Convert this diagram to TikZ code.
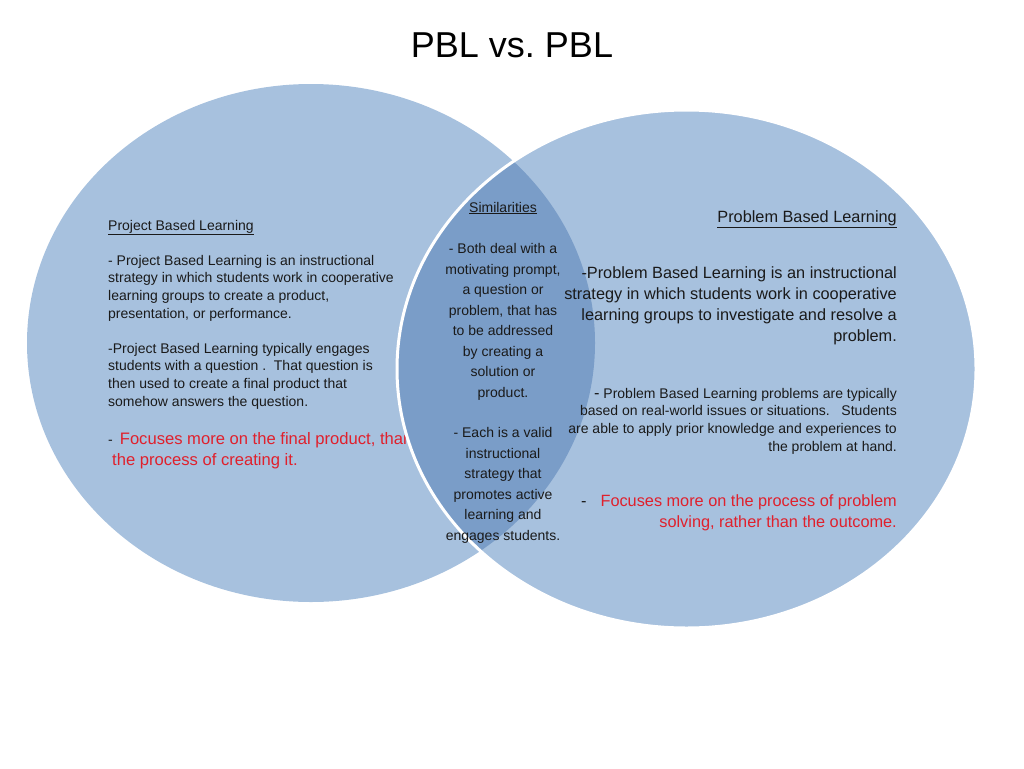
\documentclass[tikz,border=0pt]{standalone}
\usepackage{fontspec}
\setmainfont{Liberation Sans}
\frenchspacing
\usetikzlibrary{positioning}
\definecolor{vennLight}{HTML}{A7C1DE}
\definecolor{vennDark}{HTML}{7A9DC8}
\definecolor{textDark}{HTML}{1A1A1A}
\definecolor{noteRed}{HTML}{E0202C}
\tikzset{
  venntext/.style={font=\fontsize{14}{17.6}\selectfont, text=textDark, inner sep=0pt},
  leftcol/.style={venntext, align=left, anchor=base west},
  rightcol/.style={venntext, align=right, anchor=base east},
  midcol/.style={venntext, align=center, anchor=base, font=\fontsize{14}{20.5}\selectfont},
  bigtext/.style={font=\fontsize{16.3}{21}\selectfont},
}

\begin{document}
\begin{tikzpicture}[x=1pt, y=-1pt]

  \useasboundingbox (0,0) rectangle (1024,768);

  \node[font=\fontsize{36}{43}\selectfont, anchor=base, inner sep=0pt] (title) at (512, 58) {PBL vs. PBL};

  % Project based learning (anchors sit on the last line)
  \fill[vennLight] (311, 343) ellipse [x radius=284, y radius=259];

  \node[leftcol] (projHead) at (108, 230) {\underline{Project Based Learning}};
  \node[leftcol] (projText) at (108, 318) {- Project Based Learning is an instructional\\strategy in which students work in cooperative\\learning groups to create a product,\\presentation, or performance.};
  \node[leftcol] (projNote) at (108, 406) {-Project Based Learning typically engages\\students with a question .\ \ That question is\\then used to create a final product that\\somehow answers the question.};
  \node[leftcol, font=\fontsize{16.6}{21}\selectfont] (projFocus) at (108, 465) {{\fontsize{14}{17.6}\selectfont -}\hspace{7pt}\textcolor{noteRed}{Focuses more on the final product, than}\\\hspace{4pt}\textcolor{noteRed}{the process of creating it.}};

  % Problem based learning
  \fill[vennLight] (686.5, 369) ellipse [x radius=289.5, y radius=259];
  \begin{scope}
    \clip (311, 343) ellipse [x radius=284, y radius=259];
    \fill[vennDark] (686.5, 369) ellipse [x radius=289.5, y radius=259];
  \end{scope}
  \draw[white, line width=3pt] (686.5, 369) ellipse [x radius=289.5, y radius=259];

  % Similarities
  \node[midcol] (simHead) at (503, 212) {\underline{Similarities}};
  \node[midcol] (simText) at (503, 397) {- Both deal with a\\motivating prompt,\\a question or\\problem, that has\\to be addressed\\by creating a\\solution or\\product.};
  \node[midcol] (simNote) at (503, 540) {- Each is a valid\\instructional\\strategy that\\promotes active\\learning and\\engages students.};

  \node[rightcol, bigtext] (probHead) at (897, 222) {\underline{Problem Based Learning}};
  \node[rightcol, bigtext] (probText) at (897, 341) {-Problem Based Learning is an instructional\\strategy in which students work in cooperative\\learning groups to investigate and resolve a\\problem.};
  \node[rightcol] (probNote) at (897, 451) {{\fontsize{16.3}{17.6}\selectfont -} Problem Based Learning problems are typically\\based on real-world issues or situations.\ \ \ Students\\are able to apply prior knowledge and experiences to\\the problem at hand.};
  \node[rightcol, bigtext] (probFocus) at (897, 527) {-\hspace{14pt}\textcolor{noteRed}{Focuses more on the process of problem}\\\textcolor{noteRed}{solving, rather than the outcome.}};

\end{tikzpicture}
\end{document}
